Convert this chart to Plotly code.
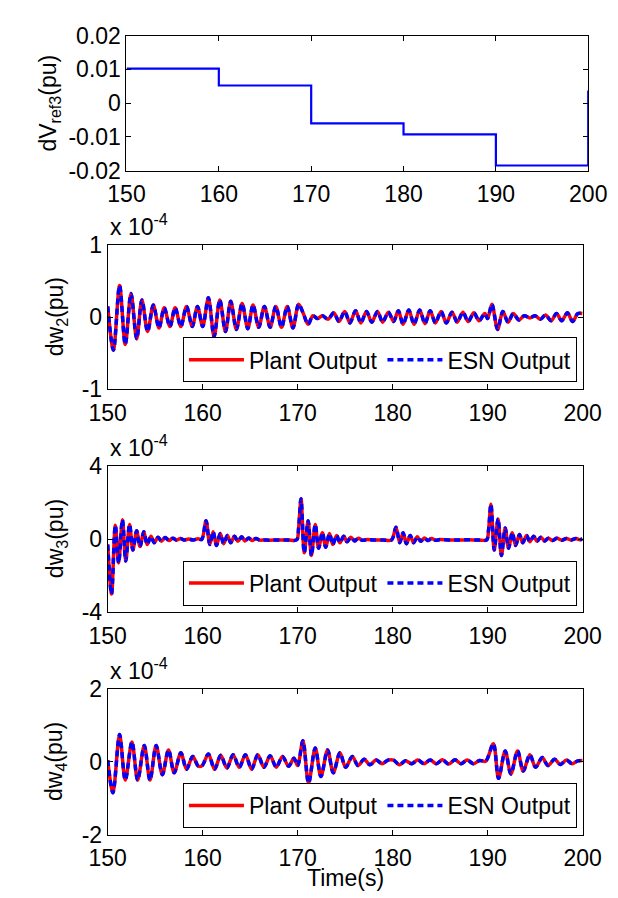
import plotly.graph_objects as go

# ---------------- data ----------------
t_vref = [150, 160, 170, 180, 190, 200, 200]
v_vref = [0.0102, 0.0052, -0.0060, -0.0093, -0.0185, -0.0185, 0.0037]

t_dw2 = [150.0, 150.6, 151.25, 151.85, 152.45, 153.05, 153.6, 154.2, 154.8, 155.4,
         155.95, 156.55, 157.1, 157.7, 158.3, 158.9, 159.45, 160.0, 160.6, 161.2,
         161.8, 162.4, 162.95, 163.55, 164.15, 164.75, 165.3, 165.9, 166.5, 167.1,
         167.7, 168.3, 168.9, 169.5, 170.1, 170.6, 171.1, 171.6, 172.1, 172.6,
         173.2, 173.8, 174.35, 174.95, 175.5, 176.1, 176.65, 177.25, 177.8, 178.4,
         178.95, 179.55, 180.1, 180.6, 181.1, 181.7, 182.25, 182.85, 183.4, 183.95,
         184.5, 185.1, 185.65, 186.25, 186.8, 187.4, 187.95, 188.55, 189.1, 189.7,
         190.0, 190.45, 191.05, 191.6, 192.15, 192.7, 193.3, 193.85, 194.45, 195.0,
         195.55, 196.1, 196.7, 197.25, 197.8, 198.4, 198.95, 199.5, 200.0]
plant_dw2 = [0.15, -0.46, 0.44, -0.38, 0.33, -0.30, 0.24, -0.20, 0.17, -0.15,
             0.13, -0.13, 0.13, -0.13, 0.15, -0.13, 0.15, -0.13, 0.27, -0.27,
             0.24, -0.20, 0.22, -0.17, 0.19, -0.16, 0.17, -0.14, 0.15, -0.14,
             0.15, -0.14, 0.15, -0.15, 0.18, 0.05, -0.10, 0.02, -0.02, 0.02,
             -0.03, 0.06, -0.06, 0.08, -0.08, 0.09, -0.08, 0.08, -0.07, 0.08,
             -0.07, 0.07, -0.06, 0.09, -0.10, 0.10, -0.10, 0.10, -0.09, 0.09,
             -0.08, 0.08, -0.08, 0.07, -0.07, 0.07, -0.06, 0.06, -0.05, 0.05,
             -0.02, 0.18, -0.17, 0.08, -0.07, 0.05, -0.04, 0.02, -0.01, 0.02,
             -0.03, 0.03, -0.05, 0.05, -0.05, 0.06, -0.06, 0.05, 0.05]
esn_dw2 = [0.15, -0.46, 0.44, -0.38, 0.33, -0.30, 0.24, -0.20, 0.17, -0.15,
           0.13, -0.13, 0.13, -0.13, 0.15, -0.13, 0.15, -0.13, 0.27, -0.27,
           0.24, -0.20, 0.22, -0.17, 0.19, -0.16, 0.17, -0.14, 0.15, -0.14,
           0.15, -0.14, 0.15, -0.15, 0.18, 0.05, -0.10, 0.02, -0.02, 0.02,
           -0.03, 0.06, -0.06, 0.08, -0.08, 0.09, -0.08, 0.08, -0.07, 0.08,
           -0.07, 0.07, -0.06, 0.09, -0.10, 0.10, -0.10, 0.10, -0.09, 0.09,
           -0.08, 0.08, -0.08, 0.07, -0.07, 0.07, -0.06, 0.06, -0.05, 0.05,
           -0.02, 0.18, -0.17, 0.08, -0.07, 0.05, -0.04, 0.02, -0.01, 0.02,
           -0.03, 0.03, -0.05, 0.05, -0.05, 0.06, -0.06, 0.05, 0.05]

t_dw3 = [150.0, 150.4, 150.8, 151.15, 151.55, 151.9, 152.3, 152.65, 153.05, 153.4,
         153.8, 154.15, 154.55, 154.9, 155.3, 155.65, 156.05, 156.45, 156.85, 157.25,
         157.65, 158.05, 158.5, 159.0, 159.5, 159.9, 160.35, 160.75, 161.1, 161.45,
         161.85, 162.2, 162.6, 162.95, 163.35, 163.7, 164.1, 164.45, 164.85, 165.2,
         165.6, 166.0, 166.5, 167.0, 168.0, 169.0, 169.9, 170.1, 170.35, 170.7,
         171.1, 171.45, 171.85, 172.2, 172.6, 172.95, 173.35, 173.7, 174.1, 174.45,
         174.85, 175.2, 175.6, 176.0, 176.4, 176.8, 177.3, 178.0, 179.0, 179.9,
         180.35, 180.75, 181.1, 181.45, 181.85, 182.2, 182.6, 182.95, 183.35, 183.7,
         184.1, 184.5, 185.0, 186.0, 187.0, 188.0, 189.0, 189.9, 190.1, 190.35,
         190.7, 191.1, 191.45, 191.85, 192.2, 192.6, 192.95, 193.35, 193.7, 194.1,
         194.45, 194.85, 195.2, 195.6, 196.0, 196.4, 196.8, 197.3, 197.8, 198.3,
         198.8, 199.3, 199.7, 200.0]
plant_dw3 = [-0.3, -3.0, 0.75, -1.3, 1.05, -1.2, 0.8, -0.6, 0.45, -0.4,
             0.4, -0.3, 0.15, -0.2, 0.1, -0.12, 0.08, -0.08, 0.05, -0.06,
             0.03, -0.05, 0.0, -0.05, 0.02, -0.02, 1.0, -0.3, 0.4, -0.35,
             0.3, -0.25, 0.2, -0.2, 0.15, -0.12, 0.12, -0.1, 0.06, -0.08,
             0.03, -0.06, -0.05, -0.06, -0.05, -0.05, -0.04, 0.6, 2.2, -0.75,
             1.0, -0.9, 0.8, -0.5, 0.35, -0.45, 0.3, -0.3, 0.2, -0.2,
             0.15, -0.15, 0.1, -0.1, 0.05, -0.07, -0.03, -0.05, -0.05, -0.04,
             0.65, -0.2, 0.35, -0.25, 0.2, -0.2, 0.12, -0.12, 0.06, -0.08,
             0.03, -0.06, -0.03, -0.05, -0.05, -0.04, -0.05, -0.04, 0.5, 1.9,
             -0.6, 1.1, -0.9, 0.6, -0.5, 0.35, -0.35, 0.25, -0.2, 0.2,
             -0.15, 0.15, -0.12, 0.1, -0.1, 0.05, -0.08, 0.04, -0.06, 0.03,
             -0.05, 0.03, -0.04, 0.02]
esn_dw3 = [-0.3, -3.0, 0.75, -1.3, 1.05, -1.2, 0.8, -0.6, 0.45, -0.4,
           0.4, -0.3, 0.15, -0.2, 0.1, -0.12, 0.08, -0.08, 0.05, -0.06,
           0.03, -0.05, 0.0, -0.05, 0.02, -0.02, 1.0, -0.3, 0.4, -0.35,
           0.3, -0.25, 0.2, -0.2, 0.15, -0.12, 0.12, -0.1, 0.06, -0.08,
           0.03, -0.06, -0.05, -0.06, -0.05, -0.05, -0.04, 0.6, 2.2, -0.75,
           1.0, -0.9, 0.8, -0.5, 0.35, -0.45, 0.3, -0.3, 0.2, -0.2,
           0.15, -0.15, 0.1, -0.1, 0.05, -0.07, -0.03, -0.05, -0.05, -0.04,
           0.65, -0.2, 0.35, -0.25, 0.2, -0.2, 0.12, -0.12, 0.06, -0.08,
           0.03, -0.06, -0.03, -0.05, -0.05, -0.04, -0.05, -0.04, 0.5, 1.9,
           -0.6, 1.1, -0.9, 0.6, -0.5, 0.35, -0.35, 0.25, -0.2, 0.2,
           -0.15, 0.15, -0.12, 0.1, -0.1, 0.05, -0.08, 0.04, -0.06, 0.03,
           -0.05, 0.03, -0.04, 0.02]

t_dw4 = [150.0, 150.55, 151.25, 151.85, 152.55, 153.15, 153.85, 154.45, 155.1, 155.75,
         156.4, 157.0, 157.7, 158.3, 158.95, 159.55, 159.95, 160.6, 161.25, 161.9,
         162.55, 163.2, 163.85, 164.5, 165.15, 165.8, 166.45, 167.1, 167.75, 168.4,
         169.05, 169.6, 170.0, 170.55, 171.15, 171.85, 172.45, 173.15, 173.75, 174.45,
         175.05, 175.75, 176.35, 177.0, 177.6, 178.25, 178.9, 179.5, 180.1, 180.7,
         181.35, 182.0, 182.65, 183.3, 183.95, 184.6, 185.25, 185.9, 186.55, 187.2,
         187.85, 188.5, 189.15, 189.8, 190.6, 191.15, 191.85, 192.45, 193.15, 193.75,
         194.45, 195.05, 195.75, 196.35, 197.05, 197.65, 198.3, 198.9, 199.5, 200.0]
plant_dw4 = [0.05, -0.85, 0.75, -0.5, 0.55, -0.5, 0.45, -0.5, 0.45, -0.35,
             0.33, -0.3, 0.25, -0.2, 0.15, -0.12, -0.1, 0.22, -0.2, 0.18,
             -0.17, 0.2, -0.15, 0.2, -0.2, 0.2, -0.15, 0.17, -0.15, 0.15,
             -0.12, 0.1, -0.1, 0.58, -0.58, 0.38, -0.4, 0.33, -0.3, 0.25,
             -0.15, 0.15, -0.1, 0.07, -0.08, 0.05, -0.05, 0.05, 0.05, -0.08,
             0.03, -0.05, 0.05, -0.05, 0.05, -0.05, 0.06, -0.06, 0.06, -0.05,
             0.05, -0.05, 0.04, 0.02, 0.5, -0.45, 0.3, -0.33, 0.3, -0.25,
             0.2, -0.15, 0.12, -0.1, 0.07, -0.07, 0.05, -0.05, 0.03, 0.04]
esn_dw4 = [0.05, -0.85, 0.75, -0.5, 0.55, -0.5, 0.45, -0.5, 0.45, -0.35,
           0.33, -0.3, 0.25, -0.2, 0.15, -0.12, -0.1, 0.22, -0.2, 0.18,
           -0.17, 0.2, -0.15, 0.2, -0.2, 0.2, -0.15, 0.17, -0.15, 0.15,
           -0.12, 0.1, -0.1, 0.58, -0.58, 0.38, -0.4, 0.33, -0.3, 0.25,
           -0.15, 0.15, -0.1, 0.07, -0.08, 0.05, -0.05, 0.05, 0.05, -0.08,
           0.03, -0.05, 0.05, -0.05, 0.05, -0.05, 0.06, -0.06, 0.06, -0.05,
           0.05, -0.05, 0.04, 0.02, 0.5, -0.45, 0.3, -0.33, 0.3, -0.25,
           0.2, -0.15, 0.12, -0.1, 0.07, -0.07, 0.05, -0.05, 0.03, 0.04]

x_ticks = [150, 160, 170, 180, 190, 200]
x_ticktext = ["150", "160", "170", "180", "190", "200"]
y1_ticks = [-0.02, -0.01, 0, 0.01, 0.02]
y1_ticktext = ["-0.02", "-0.01", "0", "0.01", "0.02"]
y2_ticks = [-1, 0, 1]
y2_ticktext = ["-1", "0", "1"]
y3_ticks = [-4, 0, 4]
y3_ticktext = ["-4", "0", "4"]
y4_ticks = [-2, 0, 2]
y4_ticktext = ["-2", "0", "2"]

# ---------------- layout geometry (pixels) ----------------
W, H = 618, 898
# (left, right, top, bottom, y-title centre x)
PLOTS = [(106, 598, 15, 154, 24), (86, 592, 231, 379, 31),
         (86, 592, 458, 609, 31), (86, 592, 688, 838, 31)]
FONT = "Liberation Sans, Arial, sans-serif"
FS = 23
FS_LEG = 23

fig = go.Figure()

# subplot 1
fig.add_trace(go.Scatter(x=t_vref, y=v_vref, mode="lines", line=dict(color="#0000FF", width=2.2, shape="hv"),
                         xaxis="x", yaxis="y", showlegend=False))

series = [
    (t_dw2, plant_dw2, esn_dw2, "2", "legend"),
    (t_dw3, plant_dw3, esn_dw3, "3", "legend2"),
    (t_dw4, plant_dw4, esn_dw4, "4", "legend3"),
]
for t, p, e, k, lg in series:
    fig.add_trace(go.Scatter(x=t, y=p, mode="lines", name="Plant Output",
                             line=dict(color="#FF0000", width=3.5, shape="spline", smoothing=0.9),
                             xaxis="x" + k, yaxis="y" + k, legend=lg))
    fig.add_trace(go.Scatter(x=t, y=e, mode="lines", name="ESN Output",
                             line=dict(color="#0000FF", width=3.5, dash="6px,4px", shape="spline", smoothing=0.9),
                             xaxis="x" + k, yaxis="y" + k, legend=lg))

axis_common = dict(showline=True, linecolor="black", linewidth=1, mirror="ticks", ticks="inside",
                   ticklen=5, tickcolor="black", showgrid=False, zeroline=False,
                   tickfont=dict(family=FONT, size=FS, color="black"))

yinfo = [
    ([-0.02, 0.02], y1_ticks, y1_ticktext),
    ([-1, 1], y2_ticks, y2_ticktext),
    ([-4, 4], y3_ticks, y3_ticktext),
    ([-2, 2], y4_ticks, y4_ticktext),
]

layout = dict(width=W, height=H, margin=dict(l=0, r=0, t=0, b=0),
              paper_bgcolor="white", plot_bgcolor="white",
              font=dict(family=FONT, size=FS, color="black"))
annotations = []
ylabels = ["dV<sub>ref3</sub>(pu)", "dw<sub>2</sub>(pu)", "dw<sub>3</sub>(pu)", "dw<sub>4</sub>(pu)"]
for i, ((left, right, top, bottom, ylx), (yr, yt, ytt)) in enumerate(zip(PLOTS, yinfo)):
    sfx = "" if i == 0 else str(i + 1)
    layout["xaxis" + sfx] = dict(axis_common, domain=[left / W, right / W], range=[150, 200],
                                 tickvals=x_ticks, ticktext=x_ticktext, anchor="y" + sfx,
                                 ticklabelstandoff=3)
    layout["yaxis" + sfx] = dict(axis_common, domain=[1 - bottom / H, 1 - top / H], range=yr,
                                 tickvals=yt, ticktext=ytt, anchor="x" + sfx)
    annotations.append(dict(text=ylabels[i], x=ylx / W, y=1 - (top + bottom) / 2 / H, xref="paper", yref="paper",
                            textangle=-90, showarrow=False, xanchor="center", yanchor="middle",
                            font=dict(family=FONT, size=FS, color="black")))
    if i > 0:
        annotations.append(dict(text="x 10<sup>-4</sup>", x=left / W, y=1 - (top - 3) / H, xref="paper", yref="paper",
                                showarrow=False, xanchor="left", yanchor="bottom",
                                font=dict(family=FONT, size=FS, color="black")))
        lg = "legend" if i == 1 else "legend" + str(i)
        layout[lg] = dict(x=(right - 6) / W, y=1 - (bottom - 7) / H, xanchor="right", yanchor="bottom",
                          orientation="h", bgcolor="white", bordercolor="black", borderwidth=1,
                          font=dict(family=FONT, size=FS_LEG, color="black"), itemwidth=55,
                          tracegroupgap=0)

annotations.append(dict(text="Time(s)", x=(86 + 592) / 2 / W, y=1 - 883 / H, xref="paper", yref="paper",
                        showarrow=False, xanchor="center", yanchor="middle",
                        font=dict(family=FONT, size=FS, color="black")))
layout["annotations"] = annotations
fig.update_layout(**layout)

fig.write_html("out.html")
